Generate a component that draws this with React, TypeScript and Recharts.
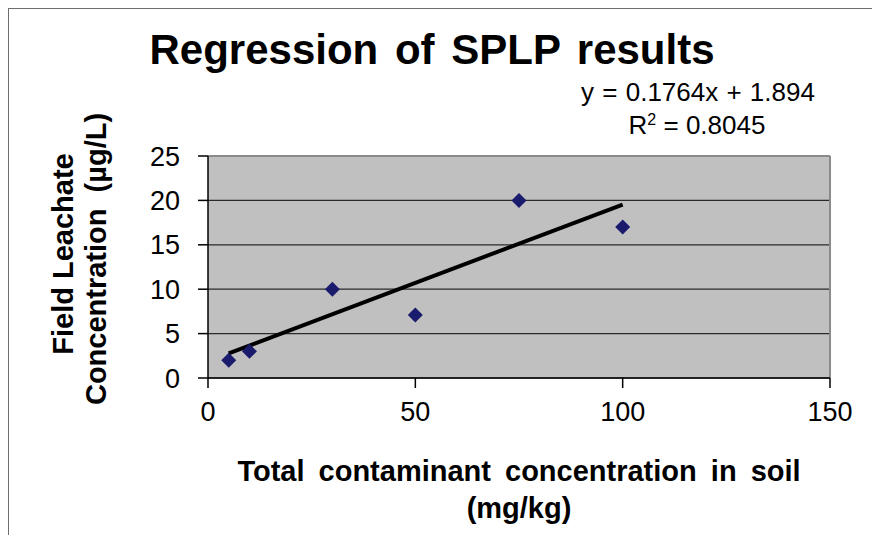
import React from "react";
import {
  ComposedChart,
  XAxis,
  YAxis,
  CartesianGrid,
  Scatter,
  Line,
  ReferenceLine,
} from "recharts";

const soilTotals = [5, 10, 30, 50, 75, 100];
const leachate = [2, 3, 10, 7.1, 20, 17];
const xTicks = [0, 50, 100, 150];
const yTicks = [0, 5, 10, 15, 20, 25];
const trendSlope = 0.1764;
const trendIntercept = 1.894;
const trendX = [5, 100];

const points = soilTotals.map((x, i) => ({ x, y: leachate[i] }));
const trendData = trendX.map((x) => ({ x, trend: trendSlope * x + trendIntercept }));

const FONT = "'Liberation Sans', Arial, sans-serif";

const Diamond = (props: any) => {
  const { cx, cy } = props;
  if (cx == null || cy == null) return null;
  const r = 7.5;
  return (
    <polygon
      points={`${cx},${cy - r} ${cx + r},${cy} ${cx},${cy + r} ${cx - r},${cy}`}
      fill="#1B1B6E"
    />
  );
};

export default function App() {
  const W = 871;
  const H = 526;
  return (
    <div
      style={{
        position: "relative",
        width: 872,
        height: 527,
        borderTop: "1px solid #6e6e6e",
        borderLeft: "1px solid #6e6e6e",
        boxSizing: "border-box",
        background: "#fff",
      }}
    >
      <div style={{ position: "absolute", left: 0, top: 0 }}>
        <ComposedChart
          width={W}
          height={H}
          margin={{ top: 147, right: 50, bottom: 0, left: 99 }}
        >
          <CartesianGrid
            vertical={false}
            fill="#C0C0C0"
            stroke="#2a2a2a"
            strokeWidth={1.2}
            fillOpacity={1}
          />
          <XAxis
            type="number"
            dataKey="x"
            domain={[0, 150]}
            ticks={xTicks}
            height={157}
            tickSize={10}
            tickMargin={14}
            stroke="#000"
            strokeWidth={1.5}
            tick={{ fill: "#000", fontSize: 27, fontFamily: FONT }}
            interval={0}
            allowDataOverflow
          />
          <YAxis
            type="number"
            domain={[0, 25]}
            ticks={yTicks}
            width={100}
            tickSize={10}
            tickMargin={18}
            stroke="#000"
            strokeWidth={1.5}
            tick={{ fill: "#000", fontSize: 27, fontFamily: FONT }}
            interval={0}
          />
          <ReferenceLine y={25} stroke="#8a8a8a" strokeWidth={2} />
          <ReferenceLine x={150} stroke="#8a8a8a" strokeWidth={2} />
          <Scatter
            data={points}
            dataKey="y"
            shape={<Diamond />}
            isAnimationActive={false}
          />
          <Line
            data={trendData}
            dataKey="trend"
            type="linear"
            stroke="#000"
            strokeWidth={4}
            dot={false}
            activeDot={false}
            isAnimationActive={false}
          />
        </ComposedChart>
      </div>
      <svg
        width={W}
        height={H}
        style={{ position: "absolute", left: 0, top: 0, pointerEvents: "none" }}
        fontFamily={FONT}
      >
        <text x={423} y={55} textAnchor="middle" fontSize={42} fontWeight="bold" fill="#000" wordSpacing={5}>
          Regression of SPLP results
        </text>
        <text x={689} y={92} textAnchor="middle" fontSize={26} fill="#000" wordSpacing={1}>
          y = 0.1764x + 1.894
        </text>
        <text x={688} y={125} textAnchor="middle" fontSize={26} fill="#000">
          R<tspan fontSize={16} dy={-9}>2</tspan>
          <tspan dy={9}> = 0.8045</tspan>
        </text>
        <text
          x={64}
          y={245}
          transform="rotate(-90 64 245)"
          textAnchor="middle"
          fontSize={29}
          fontWeight="bold"
          fill="#000"
        >
          Field Leachate
        </text>
        <text
          x={97}
          y={250}
          transform="rotate(-90 97 250)"
          textAnchor="middle"
          fontSize={29}
          fontWeight="bold"
          fill="#000"
          wordSpacing={8}
        >
          Concentration (µg/L)
        </text>
        <text x={510} y={472} textAnchor="middle" fontSize={29} fontWeight="bold" fill="#000" wordSpacing={6}>
          Total contaminant concentration in soil
        </text>
        <text x={510} y={509} textAnchor="middle" fontSize={29} fontWeight="bold" fill="#000">
          (mg/kg)
        </text>
      </svg>
    </div>
  );
}
